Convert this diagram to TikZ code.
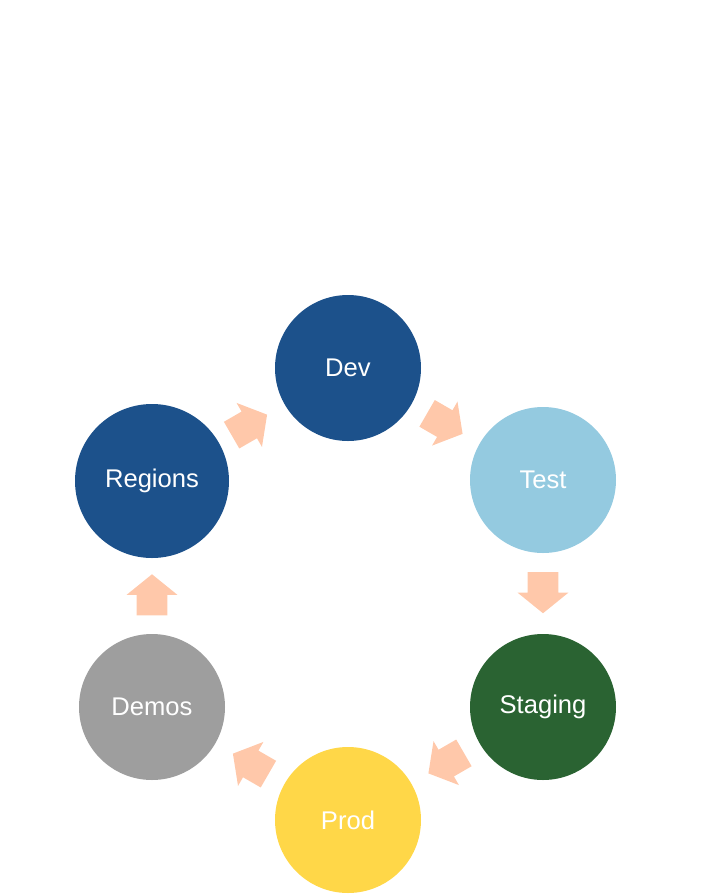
\documentclass[tikz,border=0pt]{standalone}
\usepackage{fontspec}
\setmainfont{Liberation Sans}
\usepackage{tikz}
\usetikzlibrary{calc,shapes.arrows}
\definecolor{envdark}{RGB}{28,81,139}
\definecolor{envlight}{RGB}{148,202,224}
\definecolor{envgreen}{RGB}{42,99,50}
\definecolor{envyellow}{RGB}{255,215,72}
\definecolor{envgray}{RGB}{158,158,158}
\definecolor{flowpeach}{RGB}{255,200,170}
\tikzset{
  stage/.style={circle, minimum size=73pt, inner sep=0pt, text=white, font=\fontsize{12.8}{15}\selectfont},
  flow/.style={single arrow, fill=flowpeach, draw=none, inner sep=0pt, minimum height=20.5pt, single arrow head extend=5pt, single arrow tip angle=102, rotate=#1, xshift=-3.5pt},
}

\begin{document}
\begin{tikzpicture}[x=0.5pt,y=-0.5pt]
    \useasboundingbox (0,0) rectangle (722,895);
    \node[stage, fill=envdark]   (dev) at (348,368) {Dev};
    \node[stage, fill=envlight]  (test) at (543,480) {Test};
    \node[stage, fill=envgreen]  (stg) at (543,707) {Staging};
    \node[stage, fill=envyellow] (prod) at (348,820) {Prod};
    \node[stage, fill=envgray]   (demo) at (152,707) {Demos};
    \node[stage, fill=envdark, minimum size=77pt] (reg) at (152,481) {Regions};
    % block arrows between the stages
    \node[flow=30]   (f1) at ($(reg)!0.5!(dev)$) {\rule{0pt}{15pt}};
    \node[flow=-30]  (f2) at ($(dev)!0.5!(test)$) {\rule{0pt}{15pt}};
    \node[flow=-90]  (f3) at ($(test)!0.5!(stg)$) {\rule{0pt}{15pt}};
    \node[flow=-150] (f4) at ($(stg)!0.5!(prod)$) {\rule{0pt}{15pt}};
    \node[flow=150]  (f5) at ($(prod)!0.5!(demo)$) {\rule{0pt}{15pt}};
    \node[flow=90]   (f6) at ($(demo)!0.5!(reg)$) {\rule{0pt}{15pt}};
  \end{tikzpicture}
\end{document}
